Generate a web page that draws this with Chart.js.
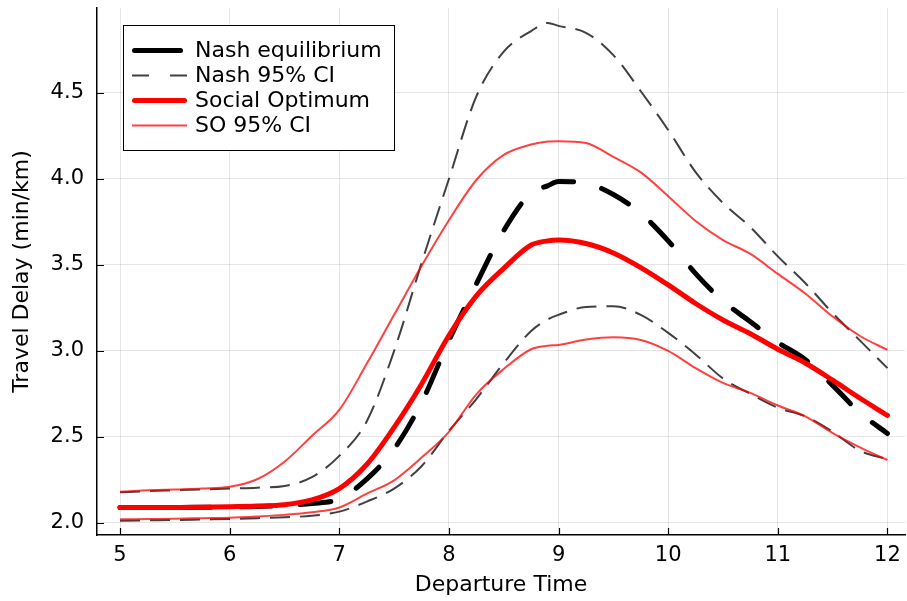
<!DOCTYPE html>
<html>
<head>
<meta charset="utf-8">
<script src="https://cdn.jsdelivr.net/npm/chart.js@4"></script>
<style>
  html, body { margin: 0; padding: 0; background: #fff; }
  #wrap { width: 907px; height: 601px; }
</style>
</head>
<body>
<div id="wrap"><canvas id="delayChart" width="907" height="601"></canvas></div>
<script>
// ------------------------------------------------------------
// DATOS: demora de viaje por hora de salida
// ------------------------------------------------------------
const departTimes = [5, 5.25, 5.5, 5.75, 6, 6.25, 6.5, 6.75, 7, 7.25, 7.5, 7.75, 8, 8.25, 8.5, 8.75, 8.9, 9, 9.25, 9.5, 9.75, 10, 10.25, 10.5, 10.75, 11, 11.25, 11.5, 11.75, 12];

const nashEq = [2.09, 2.09, 2.09, 2.091, 2.093, 2.096, 2.102, 2.113, 2.14, 2.255, 2.43, 2.70, 3.06, 3.39, 3.70, 3.92, 3.96, 3.985, 3.975, 3.91, 3.80, 3.64, 3.45, 3.29, 3.17, 3.05, 2.95, 2.80, 2.64, 2.52];
const nashHi = [2.178, 2.185, 2.19, 2.195, 2.20, 2.205, 2.215, 2.266, 2.39, 2.59, 3.00, 3.51, 4.00, 4.48, 4.74, 4.86, 4.907, 4.89, 4.85, 4.72, 4.51, 4.285, 4.04, 3.86, 3.72, 3.55, 3.395, 3.22, 3.06, 2.90];
const nashLo = [2.013, 2.015, 2.017, 2.02, 2.023, 2.028, 2.033, 2.042, 2.066, 2.124, 2.20, 2.33, 2.535, 2.72, 2.93, 3.116, 3.183, 3.21, 3.256, 3.26, 3.21, 3.105, 2.98, 2.84, 2.75, 2.67, 2.62, 2.53, 2.42, 2.37];

const soOpt = [2.09, 2.09, 2.09, 2.092, 2.094, 2.098, 2.106, 2.134, 2.20, 2.34, 2.556, 2.807, 3.09, 3.32, 3.48, 3.616, 3.64, 3.645, 3.625, 3.57, 3.485, 3.384, 3.276, 3.18, 3.10, 3.01, 2.93, 2.83, 2.725, 2.625];
const soHi = [2.182, 2.19, 2.195, 2.20, 2.21, 2.254, 2.356, 2.506, 2.657, 2.925, 3.21, 3.494, 3.76, 3.994, 4.14, 4.20, 4.218, 4.22, 4.209, 4.128, 4.038, 3.90, 3.756, 3.645, 3.564, 3.448, 3.334, 3.20, 3.087, 3.006];
const soLo = [2.021, 2.023, 2.025, 2.028, 2.031, 2.038, 2.047, 2.062, 2.09, 2.17, 2.248, 2.38, 2.53, 2.748, 2.895, 3.01, 3.03, 3.035, 3.066, 3.08, 3.064, 3.0, 2.90, 2.814, 2.756, 2.683, 2.62, 2.523, 2.44, 2.366];

const xTicks = [5, 6, 7, 8, 9, 10, 11, 12];
const yTicks = [2.0, 2.5, 3.0, 3.5, 4.0, 4.5];

const FONT = "'DejaVu Sans', sans-serif";
const GREY_CI = "rgba(0,0,0,0.75)";
const RED_CI = "rgba(255,0,0,0.75)";

function puntos(ys) {
  return departTimes.map((t, i) => ({ x: t, y: ys[i] }));
}

function serie(label, ys, color, width, dash, order, extra) {
  return Object.assign({
    label,
    data: puntos(ys),
    borderColor: color,
    borderWidth: width,
    borderDash: dash,
    pointRadius: 0,
    fill: false,
    cubicInterpolationMode: "monotone",
    order,
  }, extra || {});
}

// ------------------------------------------------------------
// LEYENDA CON MARCO, DENTRO DEL ÁREA DEL GRÁFICO
// ------------------------------------------------------------
const legendBox = {
  id: "legendBox",
  afterDatasetsDraw(chart) {
    const { ctx, chartArea } = chart;
    const items = chart.data.datasets.filter((d) => d.label);
    const x0 = chartArea.left + 26;
    const y0 = chartArea.top + 17;
    const w = 271, h = 125, rowH = 25;

    ctx.save();
    ctx.fillStyle = "#fff";
    ctx.fillRect(x0, y0, w, h);
    ctx.strokeStyle = "#000";
    ctx.lineWidth = 1;
    ctx.setLineDash([]);
    ctx.strokeRect(x0 + 0.5, y0 + 0.5, w, h);

    items.forEach((d, i) => {
      const y = y0 + 25.5 + i * rowH;
      const round = d.borderCapStyle === "round";
      const start = x0 + 9 + (round ? d.borderWidth / 2 : 0);
      const end = x0 + 64 - (round ? d.borderWidth / 2 : 0);
      ctx.beginPath();
      ctx.setLineDash(d.legendDash || []);
      ctx.lineCap = d.borderCapStyle || "butt";
      ctx.lineWidth = d.borderWidth;
      ctx.strokeStyle = d.borderColor;
      ctx.moveTo(start, y);
      ctx.lineTo(end, y);
      ctx.stroke();

      ctx.setLineDash([]);
      ctx.fillStyle = "#000";
      ctx.font = "22px " + FONT;
      ctx.textBaseline = "middle";
      ctx.textAlign = "left";
      ctx.fillText(d.label, x0 + 72, y + 1);
    });
    ctx.restore();
  },
};

// ------------------------------------------------------------
// MARCAS DE EJE HACIA ADENTRO
// ------------------------------------------------------------
const innerTicks = {
  id: "innerTicks",
  afterDraw(chart) {
    const { ctx, chartArea, scales } = chart;
    ctx.save();
    ctx.strokeStyle = "#000";
    ctx.lineWidth = 1.2;
    ctx.beginPath();
    for (const v of xTicks) {
      const px = Math.round(scales.x.getPixelForValue(v)) + 0.5;
      ctx.moveTo(px, chartArea.bottom);
      ctx.lineTo(px, chartArea.bottom - 7);
    }
    for (const v of yTicks) {
      const py = Math.round(scales.y.getPixelForValue(v)) + 0.5;
      ctx.moveTo(chartArea.left, py);
      ctx.lineTo(chartArea.left + 7, py);
    }
    ctx.stroke();
    ctx.restore();
  },
};

const canvas = document.getElementById("delayChart");

new Chart(canvas, {
  type: "line",
  data: {
    datasets: [
      serie("Nash equilibrium", nashEq, "#000", 5, [31, 29], 4,
        { borderCapStyle: "round", legendDash: [46, 100] }),
      serie("Nash 95% CI", nashHi, GREY_CI, 2, [20, 10], 3, { legendDash: [17, 21] }),
      serie("", nashLo, GREY_CI, 2, [20, 10], 3),
      serie("Social Optimum", soOpt, "#ff0000", 5, [], 2, { borderCapStyle: "round" }),
      serie("SO 95% CI", soHi, RED_CI, 2, [], 1),
      serie("", soLo, RED_CI, 2, [], 1),
    ],
  },
  options: {
    responsive: false,
    animation: false,
    events: [],
    layout: { padding: { top: 8, right: 2, left: 0, bottom: 0 } },
    plugins: {
      legend: { display: false },
      tooltip: { enabled: false },
    },
    scales: {
      x: {
        type: "linear",
        min: 4.79,
        max: 12.16,
        afterBuildTicks: (s) => { s.ticks = xTicks.map((v) => ({ value: v })); },
        afterFit: (s) => {
          s.height = 66;
          s.paddingLeft = 0;
          s.paddingRight = 0;
        },
        ticks: {
          color: "#000",
          font: { family: FONT, size: 21 },
          padding: 8,
          maxRotation: 0,
          callback: (v) => String(v),
        },
        grid: { color: "rgba(0,0,0,0.1)", lineWidth: 1, drawTicks: false },
        border: { display: true, color: "#000", width: 1.5 },
        title: {
          display: true,
          text: "Departure Time",
          color: "#000",
          font: { family: FONT, size: 22 },
          padding: { top: 0, bottom: 3 },
        },
      },
      y: {
        type: "linear",
        min: 1.93,
        max: 4.994,
        afterBuildTicks: (s) => { s.ticks = yTicks.map((v) => ({ value: v })); },
        afterFit: (s) => {
          s.width = 97;
          s.paddingTop = 0;
          s.paddingBottom = 0;
        },
        ticks: {
          color: "#000",
          font: { family: FONT, size: 21 },
          padding: 13,
          callback: (v) => Number(v).toFixed(1),
        },
        grid: { color: "rgba(0,0,0,0.1)", lineWidth: 1, drawTicks: false },
        border: { display: true, color: "#000", width: 1.5 },
        title: {
          display: true,
          text: "Travel Delay (min/km)",
          color: "#000",
          font: { family: FONT, size: 22 },
          padding: { top: 9, bottom: 0 },
        },
      },
    },
  },
  plugins: [legendBox, innerTicks],
});
</script>
</body>
</html>
